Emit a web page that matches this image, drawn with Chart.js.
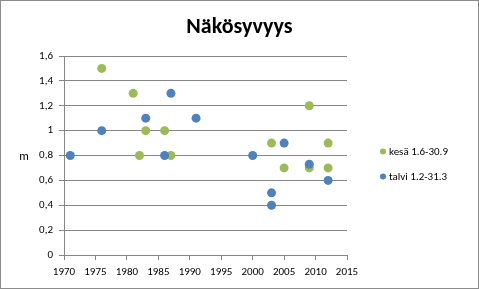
<!DOCTYPE html>
<html>
<head>
<meta charset="utf-8">
<script src="https://cdn.jsdelivr.net/npm/chart.js@4"></script>
<style>
    html, body { margin: 0; padding: 0; background: #fff; }
    #box {
        width: 479px;
        height: 289px;
        box-sizing: border-box;
        border: 1px solid #8c8c8c;
        background: #fff;
    }
    #nakos { display: block; }
</style>
</head>
<body>
<div id="box"><canvas id="nakos" width="477" height="287"></canvas></div>
<script>
// kesä 1.6-30.9
const kesaYears = [1976, 1981, 1982, 1983, 1986, 1987, 2003, 2005, 2009, 2009, 2012, 2012];
const kesaValues = [1.5, 1.3, 0.8, 1.0, 1.0, 0.8, 0.9, 0.7, 1.2, 0.7, 0.9, 0.7];

// talvi 1.2-31.3
const talviYears = [1971, 1976, 1983, 1986, 1987, 1991, 2000, 2003, 2003, 2005, 2009, 2012];
const talviValues = [0.8, 1.0, 1.1, 0.8, 1.3, 1.1, 0.8, 0.5, 0.4, 0.9, 0.73, 0.6];

const seriesNames = ['kesä 1.6-30.9', 'talvi 1.2-31.3'];
const seriesColors = ['#9bbb59', '#4f81bd'];

const yearTicks = [1970, 1975, 1980, 1985, 1990, 1995, 2000, 2005, 2010, 2015];
const depthTicks = [0, 0.2, 0.4, 0.6, 0.8, 1, 1.2, 1.4, 1.6];

const font = "Carlito, Lato, 'Liberation Sans', sans-serif";

function toPoints(xs, ys) {
    return xs.map((x, i) => ({ x: x, y: ys[i] }));
}

// title over the whole canvas, legend on the right, horizontal "m" unit label
const extras = {
    id: 'extras',
    afterDraw(chart) {
        const ctx = chart.ctx;
        const area = chart.chartArea;
        ctx.save();
        ctx.fillStyle = '#000';
        ctx.textAlign = 'center';
        ctx.textBaseline = 'middle';
        ctx.font = 'bold 22px ' + font;
        ctx.fillText('Näkösyvyys', chart.width / 2, 26);

        ctx.font = '12px ' + font;
        ctx.fillText('m', area.left - 40, (area.top + area.bottom) / 2 + 1);

        ctx.font = '11px ' + font;
        ctx.textAlign = 'left';
        const midY = (area.top + area.bottom) / 2;
        seriesNames.forEach((name, i) => {
            const y = midY - 4 + i * 25;
            ctx.fillStyle = seriesColors[i];
            ctx.beginPath();
            ctx.arc(area.right + 36, y, 3, 0, Math.PI * 2);
            ctx.fill();
            ctx.fillStyle = '#000';
            ctx.fillText(name, area.right + 42, y + 1);
        });
        ctx.restore();
    }
};

const chart = new Chart(document.getElementById('nakos'), {
    type: 'scatter',
    data: {
        datasets: [
            {
                label: seriesNames[0],
                data: toPoints(kesaYears, kesaValues),
                backgroundColor: seriesColors[0],
                borderWidth: 0,
                pointRadius: 4.5,
                order: 1
            },
            {
                label: seriesNames[1],
                data: toPoints(talviYears, talviValues),
                backgroundColor: seriesColors[1],
                borderWidth: 0,
                pointRadius: 4.5,
                order: 0
            }
        ]
    },
    options: {
        responsive: false,
        animation: false,
        layout: {
            padding: { left: 0, right: 131, top: 55, bottom: 0 }
        },
        plugins: {
            legend: { display: false },
            tooltip: { enabled: false },
            title: { display: false }
        },
        scales: {
            x: {
                type: 'linear',
                min: 1970,
                max: 2015,
                afterBuildTicks: scale => {
                    scale.ticks = yearTicks.map(v => ({ value: v }));
                },
                afterFit: scale => { scale.height = 33; },
                border: { display: true, color: '#868686' },
                grid: {
                    drawOnChartArea: false,
                    drawTicks: true,
                    tickLength: 5,
                    color: '#868686'
                },
                ticks: {
                    color: '#000',
                    padding: 6,
                    maxRotation: 0,
                    autoSkip: false,
                    font: { family: font, size: 11 },
                    callback: v => String(v)
                }
            },
            y: {
                min: 0,
                max: 1.6,
                afterBuildTicks: scale => {
                    scale.ticks = depthTicks.map(v => ({ value: v }));
                },
                afterFit: scale => { scale.width = 63; },
                border: { display: true, color: '#868686' },
                grid: {
                    color: '#868686',
                    tickLength: 5
                },
                ticks: {
                    color: '#000',
                    padding: 6,
                    font: { family: font, size: 11 },
                    callback: v => String(Math.round(v * 10) / 10).replace('.', ',')
                }
            }
        }
    },
    plugins: [extras]
});
</script>
</body>
</html>
